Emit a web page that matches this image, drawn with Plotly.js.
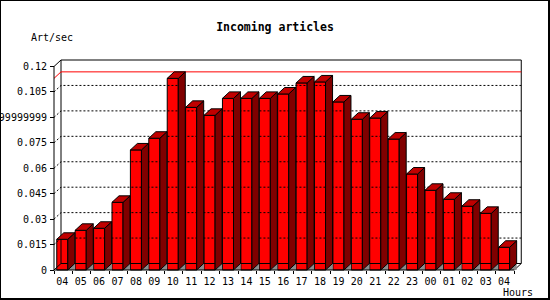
<!DOCTYPE html>
<html><head><meta charset="utf-8">
<script src="https://cdn.plot.ly/plotly-3.0.1.min.js"></script>
<style>
html,body{margin:0;padding:0;background:#fff}
#wrap{position:relative;width:550px;height:300px}
#chart{width:550px;height:300px}
#frame{position:absolute;left:0;top:0;width:550px;height:300px;box-sizing:border-box;border:1px solid #000;border-right-width:2px;border-bottom-width:2px;pointer-events:none}
</style></head><body>
<div id="wrap"><div id="chart"></div><div id="frame"></div></div>
<script>
// ---- data ----
const hours = ["04","05","06","07","08","09","10","11","12","13","14","15","16","17","18","19","20","21","22","23","00","01","02","03","04"];
const artPerSec = [0.0181,0.0234,0.0246,0.0399,0.0708,0.0777,0.1130,0.0959,0.0912,0.1012,0.1012,0.1012,0.1038,0.1103,0.1109,0.0991,0.0889,0.0896,0.0772,0.0566,0.0470,0.0417,0.0376,0.0334,0.0134];
const yTickVals = [0,0.015,0.03,0.045,0.06,0.075,0.09,0.105,0.12];
const yTickText = ["0","0.015","0.03","0.045","0.06","0.075","0.08999999999999999","0.105","0.12"];
const chartTitle = "Incoming articles";
const yUnit = "Art/sec";
const xUnit = "Hours";

// ---- geometry (pixels) ----
const PXC = 18.41, PXU = 1695.8, DX = 7, DY = 6.5;
const ML = 50, MR = 28, MT = 58, MB = 26;
const W = 550 - ML - MR, H = 300 - MT - MB;
const OX = 54, OY = 270;
const X0 = -0.45;
const dxD = DX / PXC, dyD = DY / PXU;
const xr = [X0 - (OX - ML) / PXC, X0 + (550 - MR - OX) / PXC];
const yr = [-(300 - MB - OY) / PXU, (OY - MT) / PXU];
const n = hours.length;
const XE = X0 + n;
const YT = yTickVals[yTickVals.length - 1];
const HW = 0.3;
const idx = hours.map((_, i) => i);
const vmax = Math.max(...artPerSec);

function lineTrace(xs, ys, color, dash, width) {
  return {type:'scatter', mode:'lines', x:xs, y:ys, hoverinfo:'skip', showlegend:false,
    line:{color:color, width:width === undefined ? 1 : width, dash:dash || 'solid'}};
}
function polyTrace(xs, ys, fill, lineW) {
  return {type:'scatter', mode:'lines', x:xs, y:ys, fill:'toself', fillcolor:fill, hoverinfo:'skip', showlegend:false,
    line:{color:'#000', width:lineW}};
}

const traces = [];
// back-plane dotted grid with diagonals
{
  const gx = [], gy = [];
  yTickVals.slice(1, -1).forEach(v => { gx.push(X0, X0 + dxD, XE + dxD, null); gy.push(v, v + dyD, v + dyD, null); });
  traces.push(lineTrace(gx, gy, '#000', '2px,2px'));
}
// back-plane frame
traces.push(lineTrace(
  [X0, X0 + dxD, XE + dxD, XE + dxD, XE, null, X0 + dxD, X0 + dxD, XE + dxD, null, X0, X0 + dxD],
  [YT, YT + dyD, YT + dyD, dyD, 0, null, YT + dyD, dyD, dyD, null, 0, dyD], '#000'));
// red max line
traces.push(lineTrace([X0, X0 + dxD, XE + dxD], [vmax, vmax + dyD, vmax + dyD], '#ff0000'));

// 3D faces
{
  const tx = [], ty = [], sx = [], sy = [], px = [], py = [];
  artPerSec.forEach((v, i) => {
    const l = i - HW, r = i + HW;
    tx.push(r, r + dxD, r + dxD, r, null); ty.push(0, dyD, 0, 0, null);
    sx.push(r, r, r + dxD, r + dxD, r, null); sy.push(0, v, v + dyD, dyD, 0, null);
    px.push(l, l + dxD, r + dxD, r, l, null); py.push(v, v + dyD, v + dyD, v, v, null);
  });
  traces.push(polyTrace(tx, ty, '#8c8c8c', 0));
  traces.push(polyTrace(sx, sy, '#800000', 1));
  traces.push(polyTrace(px, py, '#c00000', 1));
}
// front faces
traces.push({type:'bar', x:idx, y:artPerSec, width:HW * 2, hoverinfo:'skip', showlegend:false,
  marker:{color:'#ff0000', line:{color:'#000', width:1}}});
// front axis lines
traces.push(lineTrace([X0, X0, XE], [YT, 0, 0], '#000'));

const boundaries = [];
for (let k = 0; k <= n; k++) boundaries.push(X0 + k);

const layout = {
  width:550, height:300,
  margin:{l:ML, r:MR, t:MT, b:MB, pad:0},
  paper_bgcolor:'#fff', plot_bgcolor:'rgba(0,0,0,0)',
  showlegend:false, bargap:0,
  font:{family:'DejaVu Sans Mono', size:10, color:'#000'},
  title:{text:chartTitle, font:{family:'DejaVu Sans Mono', size:11.5, weight:'bold', color:'#000'},
    x:0.5, xref:'container', xanchor:'center', y:1 - 27 / 300, yref:'container', yanchor:'middle'},
  xaxis:{range:xr, showgrid:false, zeroline:false, showline:false, fixedrange:true,
    anchor:'free', position:(300 - MB - OY) / H,
    tickmode:'array', tickvals:idx, ticktext:hours, ticks:'', automargin:false, ticklabelstandoff:4,
    minor:{tickmode:'array', tickvals:boundaries, ticks:'outside', ticklen:3, tickcolor:'#000', tickwidth:1, showgrid:false}},
  yaxis:{range:yr, showgrid:false, zeroline:false, showline:false, fixedrange:true,
    anchor:'free', position:(OX - ML) / W,
    tickmode:'array', tickvals:yTickVals, ticktext:yTickText, ticks:'outside', ticklen:4, ticklabelstandoff:1,
    tickcolor:'#000', tickwidth:1, automargin:false, ticklabeloverflow:'allow'},
  annotations:[
    {text:yUnit, showarrow:false, xref:'paper', yref:'paper', x:(29 - ML) / W, y:(300 - MB - 37.5) / H,
      xanchor:'left', yanchor:'middle', font:{family:'DejaVu Sans Mono', size:10, color:'#000'}},
    {text:xUnit, showarrow:false, xref:'paper', yref:'paper', x:(535 - ML) / W, y:(300 - MB - 292) / H,
      xanchor:'right', yanchor:'middle', font:{family:'DejaVu Sans Mono', size:10, color:'#000'}}
  ]
};
Plotly.newPlot('chart', traces, layout, {staticPlot:true, displayModeBar:false});
</script>
</body></html>
